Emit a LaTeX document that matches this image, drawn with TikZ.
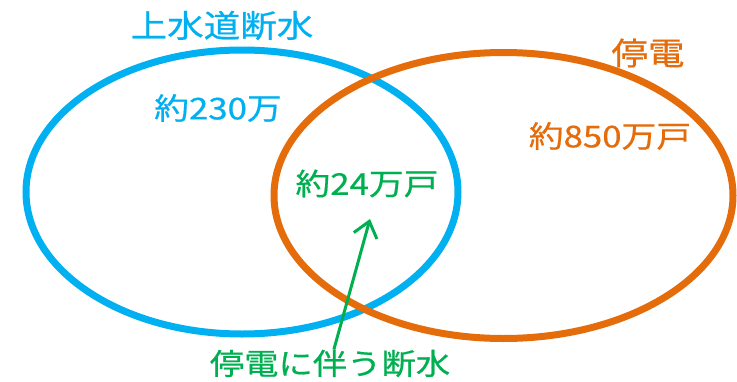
\documentclass[tikz,border=0pt]{standalone}
\usepackage{fontspec}
\newfontfamily\jpfont[FakeStretch=1.16, FakeBold=0.6]{Noto Sans CJK JP}
\usetikzlibrary{arrows.meta}
\definecolor{suidou}{HTML}{00B0F0}
\definecolor{teiden}{HTML}{E46C0A}
\definecolor{kyotsu}{HTML}{00B050}

\begin{document}
\begin{tikzpicture}[x=1pt, y=-1pt,
    ring/.style={line width=7pt},
    label/.style={font=\jpfont\fontsize{31.5}{31.5}\selectfont, inner sep=0pt},
    amount/.style={label, font=\jpfont\fontsize{30}{30}\selectfont},
    pointer/.style={kyotsu, line width=3pt, -{Straight Barb[length=15pt, width=24pt]}}]
    \useasboundingbox (0,0) rectangle (737,381);
    % the two sets
    \draw[ring, suidou] (242,192) ellipse [x radius=216, y radius=142];
    \draw[ring, teiden] (503.5,195.5) ellipse [x radius=229.5, y radius=143];
    % set names
    \node[label, suidou] (water) at (222,25.5) {上水道断水};
    \node[label, teiden] (power) at (648,53) {停電};
    % numbers
    \node[amount, suidou] (onlywater) at (218,108) {約230万};
    \node[amount, teiden] (onlypower) at (610,136) {約850万戸};
    \node[amount, kyotsu] (both) at (367,183.5) {約24万戸};
    \node[label, kyotsu, font=\jpfont\fontsize{29.6}{29.6}\selectfont] (note) at (330,363.5) {停電に伴う断水};
    \coordinate (tip) at (370,219);
    \draw[pointer] (note) -- (tip);
\end{tikzpicture}
\end{document}
